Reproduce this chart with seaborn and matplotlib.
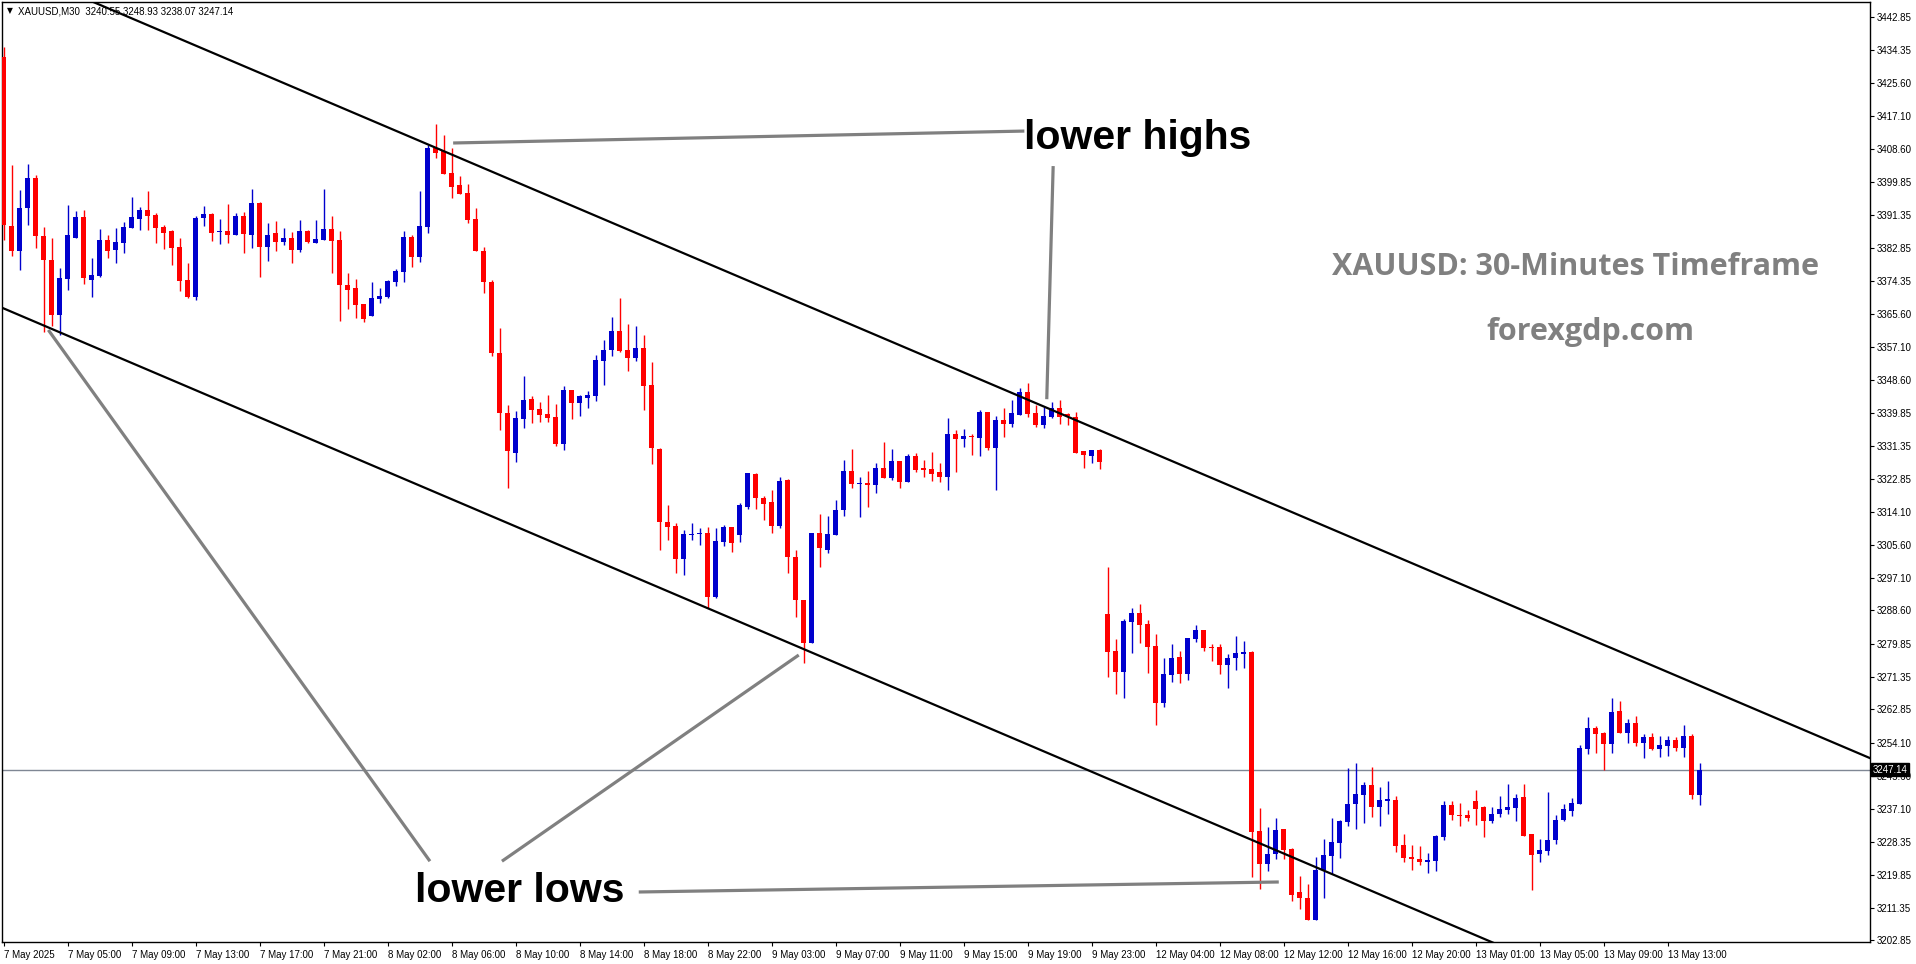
import numpy as np
import pandas as pd
import matplotlib
matplotlib.use("Agg")
import matplotlib.pyplot as plt
import matplotlib.transforms as mtransforms
import seaborn as sns

# XAUUSD M30 candles (7 May 01:00 -> 13 May)
opens = [3432.5, 3388.5, 3382.1, 3393.3, 3401.0, 3385.9, 3379.7, 3365.3, 3374.7, 3385.5,
         3390.8, 3374.4, 3375.5, 3384.9, 3382.3, 3384.2, 3388.1, 3390.4, 3392.6, 3391.3,
         3388.2, 3387.2, 3383.0, 3374.5, 3370.1, 3390.7, 3391.6, 3387.0, 3387.2, 3386.2,
         3391.1, 3386.2, 3394.5, 3383.1, 3386.7, 3384.3, 3385.4, 3382.3, 3387.2, 3384.2,
         3384.8, 3387.7, 3384.9, 3373.3, 3372.4, 3368.2, 3365.1, 3369.6, 3370.1, 3374.0,
         3376.6, 3385.6, 3380.5, 3388.3, 3408.8, 3408.0, 3402.2, 3399.2, 3397.1, 3390.3,
         3382.1, 3374.0, 3355.4, 3339.8, 3329.6, 3338.4, 3343.5, 3340.9, 3339.6, 3338.8,
         3331.8, 3345.9, 3342.6, 3343.9, 3344.3, 3353.5, 3356.3, 3361.2, 3356.3, 3354.2,
         3356.8, 3347.2, 3330.5, 3311.6, 3310.5, 3302.0, 3308.2, 3308.4, 3308.6, 3292.1,
         3306.4, 3310.2, 3308.2, 3315.5, 3324.0, 3317.9, 3316.8, 3310.5, 3322.5, 3302.5,
         3291.4, 3280.2, 3308.6, 3304.4, 3308.3, 3314.8, 3324.8, 3321.5, 3321.8, 3321.1,
         3325.5, 3322.9, 3327.4, 3322.0, 3328.7, 3325.5, 3325.3, 3324.5, 3323.3, 3334.4,
         3333.2, 3334.0, 3333.4, 3340.2, 3330.7, 3338.1, 3337.0, 3339.4, 3345.3, 3340.0,
         3336.8, 3338.9, 3341.3, 3339.6, 3338.9, 3330.0, 3328.7, 3330.3,
         3287.6, 3278.0, 3272.6, 3285.6, 3288.0, 3285.0, 3279.3, 3264.6, 3271.9, 3276.4,
         3272.0, 3281.1, 3283.6, 3279.1, 3279.0, 3274.4, 3276.3, 3277.2, 3277.7, 3231.2,
         3222.8, 3225.4, 3231.7, 3226.5, 3215.3, 3213.8, 3208.1, 3221.1, 3224.8, 3228.2,
         3233.6, 3238.2, 3240.7, 3243.2, 3237.5, 3239.1, 3239.3, 3227.6, 3224.4, 3224.1,
         3223.2, 3223.4, 3229.7, 3237.9, 3235.4, 3235.4, 3239.0, 3237.5, 3233.8, 3235.8,
         3236.7, 3237.3, 3240.1, 3230.4, 3225.2, 3226.1, 3228.9, 3234.2, 3236.5, 3238.4,
         3252.5, 3257.9, 3256.8, 3253.8, 3262.4, 3256.8, 3259.4, 3254.2, 3255.7, 3252.5,
         3253.4, 3254.9, 3252.9, 3255.9, 3240.55]
highs = [3435.1, 3404.4, 3397.9, 3404.6, 3401.8, 3388.3, 3385.5, 3377.7, 3394.0, 3392.4,
         3392.7, 3380.2, 3387.7, 3386.1, 3388.0, 3389.5, 3396.1, 3393.5, 3397.6, 3391.8,
         3388.8, 3387.6, 3385.3, 3378.9, 3391.1, 3393.7, 3392.0, 3390.3, 3394.3, 3392.0,
         3392.1, 3398.1, 3394.7, 3389.4, 3389.8, 3387.9, 3386.9, 3390.0, 3387.5, 3390.1,
         3398.1, 3391.1, 3387.2, 3376.4, 3374.8, 3368.2, 3373.9, 3372.5, 3374.5, 3377.3,
         3387.2, 3386.1, 3397.6, 3409.6, 3415.0, 3412.2, 3408.9, 3401.5, 3399.4, 3393.1,
         3383.0, 3374.5, 3361.9, 3342.0, 3340.4, 3349.5, 3344.3, 3342.8, 3344.6, 3342.2,
         3346.9, 3345.9, 3344.6, 3345.6, 3355.0, 3358.9, 3364.9, 3369.9, 3363.0, 3362.6,
         3360.2, 3353.2, 3330.7, 3316.0, 3311.4, 3309.5, 3311.4, 3309.9, 3310.3, 3309.9,
         3310.9, 3310.2, 3316.4, 3324.4, 3324.2, 3318.3, 3319.9, 3323.3, 3322.7, 3304.4,
         3291.4, 3308.6, 3313.6, 3313.1, 3317.3, 3327.7, 3330.5, 3323.3, 3324.8, 3327.0,
         3332.3, 3330.5, 3327.4, 3329.2, 3329.4, 3327.7, 3329.9, 3327.0, 3338.5, 3335.5,
         3335.7, 3334.4, 3340.7, 3340.2, 3339.1, 3341.3, 3343.4, 3346.5, 3347.8, 3342.0,
         3341.5, 3342.8, 3343.3, 3339.8, 3340.2, 3330.1, 3330.4, 3330.5,
         3299.9, 3281.1, 3286.3, 3289.1, 3290.2, 3286.1, 3282.4, 3276.1, 3279.8, 3278.0,
         3281.5, 3284.8, 3283.6, 3279.8, 3279.8, 3277.2, 3281.9, 3280.6, 3278.0, 3237.3,
         3232.3, 3234.7, 3231.7, 3226.9, 3219.5, 3217.6, 3224.5, 3229.3, 3234.7, 3234.1,
         3247.7, 3249.0, 3244.0, 3247.8, 3242.7, 3244.2, 3240.3, 3230.6, 3227.6, 3227.3,
         3225.6, 3230.2, 3239.1, 3239.1, 3238.6, 3236.7, 3241.9, 3237.7, 3237.4, 3240.3,
         3243.4, 3240.8, 3243.4, 3230.4, 3229.3, 3241.3, 3235.4, 3238.4, 3239.9, 3253.6,
         3260.9, 3258.5, 3257.1, 3265.7, 3265.0, 3260.3, 3261.1, 3256.4, 3256.8, 3255.9,
         3256.0, 3255.6, 3258.8, 3256.5, 3248.93]
lows = [3385.0, 3380.7, 3377.2, 3388.8, 3382.9, 3361.0, 3362.5, 3360.1, 3371.8, 3385.3,
        3373.4, 3370.1, 3375.3, 3380.2, 3378.8, 3381.4, 3388.1, 3387.5, 3387.5, 3384.0,
        3382.6, 3378.4, 3371.7, 3369.9, 3369.4, 3388.5, 3384.6, 3383.9, 3384.2, 3386.2,
        3381.6, 3382.9, 3375.3, 3379.5, 3382.1, 3383.6, 3379.0, 3381.8, 3384.0, 3384.0,
        3384.8, 3376.2, 3363.9, 3367.0, 3364.7, 3363.6, 3365.1, 3368.5, 3369.7, 3373.0,
        3374.0, 3377.9, 3379.2, 3386.8, 3406.1, 3402.1, 3395.9, 3396.9, 3389.2, 3382.1,
        3371.0, 3354.8, 3335.6, 3320.5, 3327.2, 3336.1, 3337.4, 3337.6, 3337.6, 3331.4,
        3330.4, 3338.4, 3339.1, 3341.3, 3343.1, 3347.2, 3354.7, 3355.8, 3350.8, 3353.5,
        3340.7, 3326.6, 3304.3, 3306.9, 3298.2, 3297.8, 3306.9, 3305.6, 3289.1, 3291.9,
        3305.3, 3303.8, 3306.4, 3314.9, 3314.9, 3312.2, 3308.8, 3309.9, 3298.4, 3286.9,
        3274.8, 3280.2, 3299.8, 3303.6, 3308.2, 3313.1, 3320.3, 3312.9, 3315.5, 3319.0,
        3322.9, 3322.5, 3320.3, 3321.9, 3324.6, 3323.3, 3322.2, 3322.0, 3320.0, 3324.6,
        3331.0, 3329.0, 3328.7, 3330.3, 3320.0, 3333.7, 3336.3, 3339.4, 3338.9, 3336.3,
        3336.1, 3338.5, 3337.0, 3336.8, 3329.6, 3325.7, 3327.0, 3325.3,
        3271.2, 3266.8, 3265.9, 3277.6, 3280.2, 3272.2, 3258.9, 3263.5, 3270.0, 3269.6,
        3270.5, 3280.3, 3278.1, 3275.5, 3272.0, 3268.5, 3273.1, 3273.7, 3219.3, 3216.1,
        3220.9, 3224.1, 3224.1, 3213.1, 3211.0, 3208.1, 3208.1, 3213.9, 3220.2, 3224.3,
        3232.6, 3231.7, 3233.4, 3234.9, 3232.6, 3235.6, 3225.8, 3223.2, 3221.1, 3222.4,
        3220.4, 3220.9, 3228.9, 3234.1, 3232.5, 3233.9, 3232.8, 3229.7, 3233.4, 3234.9,
        3235.8, 3233.9, 3230.0, 3215.9, 3223.2, 3225.0, 3228.0, 3233.9, 3235.1, 3238.2,
        3251.2, 3251.6, 3247.2, 3251.4, 3256.6, 3254.2, 3253.4, 3250.3, 3252.3, 3250.5,
        3250.7, 3252.1, 3250.4, 3239.5, 3238.07]
closes = [3388.8, 3382.1, 3393.3, 3401.0, 3386.0, 3379.7, 3365.3, 3375.1, 3386.2, 3390.9,
          3375.1, 3375.8, 3384.9, 3382.1, 3384.3, 3388.2, 3390.8, 3392.7, 3391.2, 3388.1,
          3386.8, 3382.9, 3374.3, 3370.1, 3390.6, 3391.6, 3386.8, 3387.2, 3386.2, 3391.1,
          3386.5, 3394.5, 3383.1, 3386.2, 3384.3, 3385.4, 3382.3, 3387.2, 3384.4, 3385.1,
          3387.7, 3384.7, 3373.2, 3371.8, 3368.0, 3364.4, 3369.9, 3370.3, 3374.3, 3376.8,
          3385.6, 3380.5, 3388.5, 3408.8, 3407.6, 3402.1, 3398.7, 3396.9, 3390.1, 3382.1,
          3374.0, 3355.4, 3339.8, 3330.1, 3338.5, 3343.3, 3340.7, 3339.4, 3338.7, 3331.8,
          3345.9, 3342.6, 3344.3, 3344.6, 3353.7, 3356.3, 3361.2, 3356.0, 3354.2, 3356.8,
          3346.9, 3330.9, 3311.6, 3310.2, 3302.0, 3308.4, 3308.4, 3308.7, 3292.1, 3306.6,
          3310.2, 3306.0, 3316.0, 3324.2, 3317.7, 3316.2, 3310.5, 3322.2, 3302.5, 3291.4,
          3280.2, 3308.6, 3304.7, 3308.4, 3314.8, 3324.8, 3321.4, 3321.8, 3321.1, 3325.6,
          3323.1, 3327.4, 3322.0, 3328.7, 3325.1, 3325.1, 3324.0, 3323.3, 3334.4, 3333.1,
          3333.9, 3333.6, 3340.2, 3330.7, 3338.2, 3337.0, 3340.0, 3345.3, 3339.6, 3336.8,
          3339.1, 3341.3, 3338.9, 3339.1, 3329.6, 3329.0, 3330.3, 3327.2,
          3277.8, 3272.6, 3285.8, 3288.0, 3284.8, 3279.1, 3264.6, 3272.0, 3276.1, 3272.0,
          3281.3, 3283.5, 3278.9, 3278.8, 3274.4, 3276.1, 3277.4, 3277.7, 3231.0, 3222.8,
          3225.4, 3231.5, 3226.3, 3214.7, 3213.9, 3208.1, 3221.1, 3225.0, 3228.3, 3233.8,
          3238.2, 3241.0, 3243.2, 3237.5, 3239.3, 3239.5, 3227.4, 3224.3, 3223.9, 3223.2,
          3223.8, 3230.0, 3237.9, 3235.4, 3235.1, 3234.7, 3236.9, 3233.8, 3235.8, 3236.9,
          3237.5, 3239.9, 3230.0, 3225.1, 3226.3, 3229.0, 3234.2, 3236.9, 3238.6, 3252.7,
          3257.9, 3256.4, 3253.8, 3262.2, 3256.8, 3259.4, 3254.2, 3255.7, 3252.5, 3253.6,
          3254.9, 3252.9, 3255.9, 3240.5, 3247.14]

time_labels = ['7 May 2025', '7 May 05:00', '7 May 09:00', '7 May 13:00', '7 May 17:00',
               '7 May 21:00', '8 May 02:00', '8 May 06:00', '8 May 10:00', '8 May 14:00',
               '8 May 18:00', '8 May 22:00', '9 May 03:00', '9 May 07:00', '9 May 11:00',
               '9 May 15:00', '9 May 19:00', '9 May 23:00', '12 May 04:00', '12 May 08:00',
               '12 May 12:00', '12 May 16:00', '12 May 20:00', '13 May 01:00', '13 May 05:00',
               '13 May 09:00', '13 May 13:00']
price_ticks = [3442.85, 3434.35, 3425.60, 3417.10, 3408.60, 3399.85, 3391.35, 3382.85,
               3374.35, 3365.60, 3357.10, 3348.60, 3339.85, 3331.35, 3322.85, 3314.10,
               3305.60, 3297.10, 3288.60, 3279.85, 3271.35, 3262.85, 3254.10, 3245.60,
               3237.10, 3228.35, 3219.85, 3211.35, 3202.85]
last_price = 3247.14
header = 'XAUUSD,M30  3240.55 3248.93 3238.07 3247.14'

# channel anchors (bar index, price)
upper_channel = [(17.94, 3440.8), (233.3, 3250.2)]
lower_channel = [(-0.1, 3367.2), (185.2, 3203.1)]
# grey pointer lines (bar index, price)
highs_pointers = [[(56.2, 3410.1), (127.6, 3413.2)],
                  [(131.2, 3404.1), (130.4, 3343.5)]]
lows_pointers = [[(53.3, 3223.4), (5.6, 3361.5)],
                 [(62.3, 3223.4), (99.4, 3277.0)],
                 [(79.4, 3215.4), (159.4, 3218.0)]]

df = pd.DataFrame({'open': opens, 'high': highs, 'low': lows, 'close': closes})
df['bar'] = np.arange(len(df))
df['up'] = df['close'] >= df['open']

sns.set_theme(style='white')
plt.rcParams['font.family'] = ['Liberation Sans', 'DejaVu Sans']

W, H = 1916, 964
fig = plt.figure(figsize=(W / 100, H / 100), dpi=100)
ax = fig.add_axes([2 / W, 1 - 942 / H, 1868 / W, 940 / H])

RED, BLUE = '#ff0000', '#0000cd'
cols = np.where(df['up'], BLUE, RED)

# wicks then bodies
ax.vlines(df['bar'], df['low'], df['high'], colors=cols, linewidth=1.0, zorder=3)
body_lo = np.minimum(df['open'], df['close'])
body_h = np.maximum((df['close'] - df['open']).abs(), 0.3)
ax.bar(df['bar'], body_h, bottom=body_lo, width=0.62, color=cols, linewidth=0, zorder=4)

ax.set_xlim(-0.19, 233.3)
ax.set_ylim(3202.4, 3446.75)

# channel
for (x0, y0), (x1, y1) in [upper_channel, lower_channel]:
    slope = (y1 - y0) / (x1 - x0)
    xs = np.array([-5, 240])
    ax.plot(xs, y0 + slope * (xs - x0), color='black', lw=1.6, zorder=5)

for seg in highs_pointers + lows_pointers:
    ax.plot([seg[0][0], seg[1][0]], [seg[0][1], seg[1][1]], color='#808080', lw=2.3,
            solid_capstyle='butt', zorder=5)

ax.axhline(last_price, color='#7f8794', lw=1, zorder=2)

# axes styling (MT4 like)
for s in ax.spines.values():
    s.set_color('black')
    s.set_linewidth(1.0)
ax.yaxis.tick_right()
ax.set_yticks(price_ticks)
ax.set_yticklabels(['%.2f' % p for p in price_ticks])
ax.set_xticks(np.arange(len(time_labels)) * 8)
ax.set_xticklabels(time_labels, ha='left')
ax.tick_params(axis='both', which='both', length=3, width=0.8, color='black',
               labelsize=7, labelcolor='black', direction='out', pad=2)
ax.tick_params(axis='y', right=True, left=False)
ax.tick_params(axis='x', bottom=True, pad=3)
ax.grid(False)

trans = mtransforms.blended_transform_factory(ax.transAxes, ax.transData)
ax.text(1.0015, last_price, '3247.14', transform=trans, fontsize=7, color='white',
        ha='left', va='center', zorder=10, clip_on=False,
        bbox=dict(boxstyle='square,pad=0.15', fc='black', ec='black'))

fig.text(7 / W, 1 - 11 / H, '\u25bc', fontsize=5.5, color='black', va='center',
         family=['DejaVu Sans'])
fig.text(18 / W, 1 - 11 / H, header, fontsize=7, color='black', va='center')

fig.text(1575 / W, 1 - 275 / H, 'XAUUSD: 30-Minutes Timeframe', fontsize=22,
         fontweight='bold', color='#808080', ha='center', va='baseline', family=['Open Sans'])
fig.text(1590 / W, 1 - 340 / H, 'forexgdp.com', fontsize=22, fontweight='bold',
         color='#808080', ha='center', va='baseline', family=['Open Sans'])

fig.text(1024 / W, 1 - 149 / H, 'lower highs', fontsize=29.5, fontweight='bold',
         color='black', ha='left', va='baseline', family=['Liberation Sans'])
fig.text(415 / W, 1 - 902 / H, 'lower lows', fontsize=29.5, fontweight='bold',
         color='black', ha='left', va='baseline', family=['Liberation Sans'])

fig.savefig('out.png', dpi=100, facecolor='white')
